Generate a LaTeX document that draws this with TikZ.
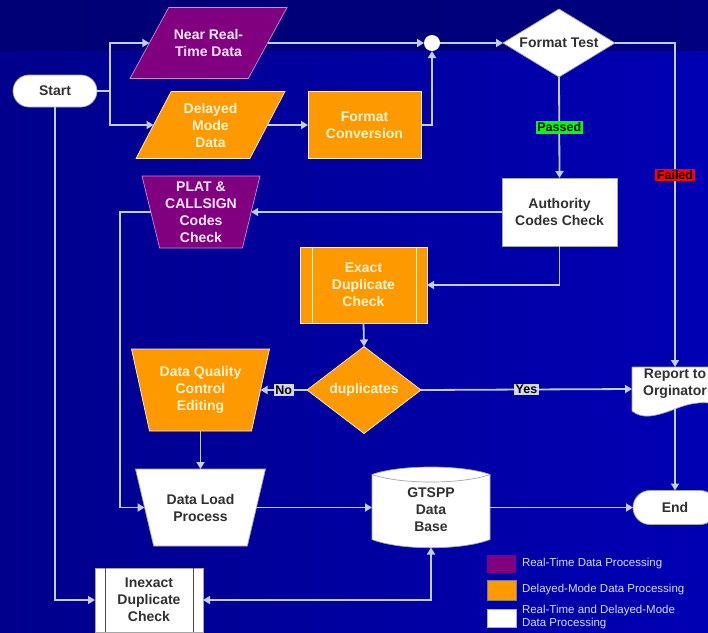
\documentclass[tikz,border=0pt]{standalone}
\usepackage{fontspec}
\setmainfont{Liberation Sans}
\usetikzlibrary{shapes.geometric,arrows.meta,calc}

\definecolor{bgtopl}{HTML}{000074}
\definecolor{bgtopr}{HTML}{000080}
\definecolor{bgleft}{HTML}{00008C}
\definecolor{bgright}{HTML}{0000B4}
\definecolor{rtpurple}{HTML}{800080}
\definecolor{dmorange}{HTML}{FF9900}
\definecolor{wire}{HTML}{C4CCF8}
\definecolor{inkdark}{HTML}{303030}
\definecolor{cream}{HTML}{FFF4D0}
\definecolor{pinkwhite}{HTML}{FFE8FF}
\definecolor{tagbg}{HTML}{D4D8EC}
\definecolor{keytext}{HTML}{D8DCF4}

\begin{document}
\begin{tikzpicture}[x=1pt,y=-1pt,
  font=\fontsize{14}{17}\selectfont\bfseries,
  every node/.style={inner sep=0pt, outer sep=0pt, align=center},
  rt/.style={fill=rtpurple, draw=pinkwhite!60!rtpurple, line width=0.7pt, text=pinkwhite},
  dm/.style={fill=dmorange, draw=cream, line width=0.7pt, text=cream},
  both/.style={fill=white, draw=black!35, line width=0.7pt, text=inkdark},
  slab/.style={trapezium, trapezium stretches=true, inner sep=2pt},
  terminal/.style={both, rectangle, rounded corners=16pt},
  conn/.style={draw=wire, line width=1.8pt},
  arr/.style={conn, -{Triangle[length=7pt,width=8pt]}},
  arrboth/.style={conn, {Triangle[length=7pt,width=8pt]}-{Triangle[length=7pt,width=8pt]}},
  tag/.style={font=\fontsize{12.5}{14}\selectfont\bfseries, text=black, inner xsep=1.5pt, inner ysep=1.5pt},
  keytxt/.style={font=\fontsize{11.5}{13.5}\selectfont, text=keytext, align=left, anchor=west},
]
\useasboundingbox (0,0) rectangle (708,632);
\begin{scope}
\clip (0,0) rectangle (708,632);

% background
\shade[left color=bgtopl, right color=bgtopr] (0,0) rectangle (708,51);
\shade[left color=bgleft, right color=bgright] (0,51) rectangle (708,632);

% shapes
\node[terminal, minimum width=84pt, minimum height=32pt] (start) at (55,91) {Start};

\node[rt, slab, trapezium left angle=64, trapezium right angle=116,
  minimum width=157pt, minimum height=71pt] (near) at (208.5,43) {};
\node[text=pinkwhite] (neartxt) at (near.center) {Near Real-\\Time Data};
\node[dm, slab, trapezium left angle=66, trapezium right angle=114,
  minimum width=149pt, minimum height=67pt] (delayed) at (210.5,125) {};
\node[text=cream] (delayedtxt) at (delayed.center) {Delayed\\Mode\\Data};
\node[dm, rectangle, minimum width=113pt, minimum height=67pt] (fconv) at (364.5,125) {Format\\Conversion};
\node[circle, fill=white, minimum size=16pt] (junc) at (432,43) {};
\node[both, diamond, minimum width=112pt, minimum height=68pt] (ftest) at (559,43) {};
\node[text=inkdark] (ftesttxt) at (ftest.center) {Format Test};

\node[both, rectangle, minimum width=115pt, minimum height=68pt] (auth) at (559.5,212) {Authority\\Codes Check};
\node[rt, slab, trapezium left angle=102, trapezium right angle=102,
  minimum width=118pt, minimum height=72pt] (plat) at (201,212) {};
\node[text=pinkwhite] (plattxt) at (plat.center) {PLAT \&\\CALLSIGN\\Codes\\Check};

\node[dm, rectangle, minimum width=127pt, minimum height=76pt] (exact) at (363.5,285) {Exact\\Duplicate\\Check};
\draw[cream, line width=1pt] ([xshift=12pt]exact.north west) -- ([xshift=12pt]exact.south west);
\draw[cream, line width=1pt] ([xshift=-11pt]exact.north east) -- ([xshift=-11pt]exact.south east);

\node[dm, diamond, minimum width=114pt, minimum height=87pt] (dup) at (364,390) {};
\node[text=cream] (duptxt) at (dup.center) {duplicates};

\node[dm, slab, trapezium left angle=100, trapezium right angle=100,
  minimum width=138pt, minimum height=82pt] (dqc) at (200.5,390) {};
\node[text=cream] (dqctxt) at (dqc.center) {Data Quality\\Control\\Editing};

\node[both, slab, trapezium left angle=101, trapezium right angle=101,
  minimum width=130pt, minimum height=77pt] (load) at (200.5,507.5) {};
\node[text=inkdark] (loadtxt) at (load.center) {Data Load\\Process};

% data base drum
\node[rectangle, minimum width=118pt, minimum height=80pt] (gts) at (431,507.5) {};
\begin{scope}[shift={(gts.north west)}]
  \draw[both] (0,7) .. controls (28,-3) and (90,-3) .. (118,7) -- (118,72)
    .. controls (90,83) and (28,83) .. (0,72) -- cycle;
  \draw[black!35, line width=0.7pt] (0,7) .. controls (28,17) and (90,17) .. (118,7);
\end{scope}
\node[text=inkdark] (gtstxt) at ([yshift=-2pt]gts.center) {GTSPP\\Data\\Base};

% report document
\node[rectangle, minimum width=86pt, minimum height=44pt] (report) at (675,389) {};
\begin{scope}[shift={(report.north west)}]
  \draw[both] (0,0) -- (86,0) -- (86,38) .. controls (75,34) and (60,35) .. (43,42)
    .. controls (22,50) and (10,52) .. (0,44) -- cycle;
\end{scope}
\node[text=inkdark] (reporttxt) at ([yshift=5pt]report.center) {Report to\\Orginator};

\node[terminal, minimum width=84pt, minimum height=34pt, rounded corners=17pt] (endn) at (675,507.5) {End};

\node[both, rectangle, minimum width=108pt, minimum height=64pt] (inexact) at (149,600) {Inexact\\Duplicate\\Check};
\draw[black!70, line width=0.9pt] ([xshift=10pt]inexact.north west) -- ([xshift=10pt]inexact.south west);
\draw[black!70, line width=0.9pt] ([xshift=-10pt]inexact.north east) -- ([xshift=-10pt]inexact.south east);

% connectors
\coordinate (fork) at (110,91);
\coordinate (platx) at (120,0);
\draw[conn] (start.east) -- (fork);
\draw[arr] (fork) |- (near.left side);
\draw[arr] (fork) |- (delayed.left side);
\draw[arr] (near.right side) -- (junc.west);
\draw[arr] (delayed.right side) -- (fconv.west);
\draw[arr] (fconv.east) -| (junc.south);
\draw[arr] (junc.east) -- (ftest.west);
\draw[arr] (ftest.east) -| node[tag, fill=red, pos=0.704] (failed) {Failed} (report.north);
\draw[arr] (ftest.south) -- node[tag, fill=green] (passed) {Passed} (auth.north);
\draw[arr] (auth.west) -- (plat.right side);
\draw[arr] (plat.left side) -- (plat.left side -| platx) |- (load.left side);
\draw[arr] (auth.south) |- (exact.east);
\draw[arr] (exact.south) -- (dup.north);
\draw[arr] (dup.west) -- node[tag, fill=tagbg] (no) {No} (dqc.right side);
\draw[arr] (dup.east) -- node[tag, fill=tagbg] (yes) {Yes} (report.west);
\draw[arr] (dqc.south) -- (load.north);
\draw[arr] (load.right side) -- (gts.west);
\draw[arr] (gts.east) -- (endn.west);
\draw[arr] ([yshift=3pt]report.south) -- (endn.north);
\draw[arr] (start.south) |- (inexact.west);
\draw[arrboth] (inexact.east) -| (gts.south);

% key
\node[rt, draw=none, rectangle, minimum width=29pt, minimum height=18pt] (keyrt) at (501.5,564) {};
\node[keytxt] (keyrttxt) at ([xshift=6pt]keyrt.east) {Real-Time Data Processing};
\node[dm, draw=black!50, rectangle, minimum width=29pt, minimum height=20pt] (keydm) at (501.5,590) {};
\node[keytxt] (keydmtxt) at ([xshift=6pt]keydm.east) {Delayed-Mode Data Processing};
\node[both, draw=black!30, rectangle, minimum width=29pt, minimum height=18pt] (keyboth) at (501.5,618) {};
\node[keytxt] (keybothtxt) at ([xshift=6pt,yshift=1pt]keyboth.east) {Real-Time and Delayed-Mode\\Data Processing};
\end{scope}
\end{tikzpicture}
\end{document}
